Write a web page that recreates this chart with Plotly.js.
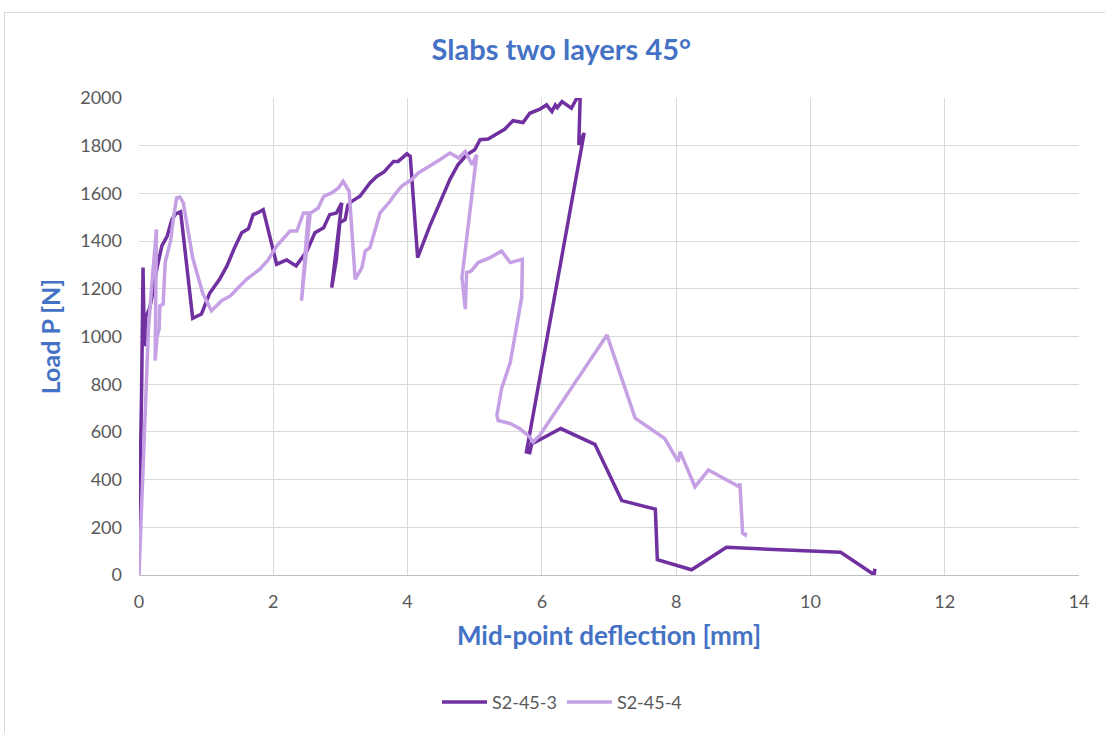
<!DOCTYPE html>
<html>
<head>
<meta charset="utf-8">
<script src="https://cdn.plot.ly/plotly-3.0.1.min.js"></script>
<style>
  html, body { margin: 0; padding: 0; background: #ffffff; }
  #chart { width: 1105px; height: 733px; position: absolute; left: 0; top: 0; }
  #frame { position: absolute; left: 4px; top: 12px; width: 1110px; height: 730px; border: 1px solid #d9d9d9; pointer-events: none; }
</style>
</head>
<body>
<div id="chart"></div>
<div id="frame"></div>
<script>
// S2-45-3 (dark purple)
const x_s3 = [0.00, 0.02, 0.04, 0.06, 0.08, 0.10, 0.10, 0.16, 0.19, 0.27, 0.34, 0.38, 0.42, 0.49, 0.55, 0.62, 0.80, 0.93, 1.05, 1.20, 1.31, 1.42, 1.53, 1.63, 1.70, 1.78, 1.85, 2.05, 2.20, 2.34, 2.50, 2.62, 2.75, 2.84, 2.94, 3.02, 2.87, 2.94, 2.99, 3.07, 3.11, 3.17, 3.29, 3.44, 3.54, 3.65, 3.79, 3.86, 3.99, 4.04, 4.15, 4.33, 4.50, 4.63, 4.75, 4.88, 5.00, 5.08, 5.20, 5.35, 5.45, 5.57, 5.72, 5.82, 5.97, 6.07, 6.15, 6.20, 6.23, 6.30, 6.44, 6.52, 6.57, 6.55, 6.63, 5.77, 5.82, 5.85, 5.92, 6.28, 6.79, 7.19, 7.69, 7.72, 8.23, 8.75, 10.45, 10.95, 10.96];
const y_s3 = [100, 400, 800, 1289, 960, 1000, 1080, 1120, 1160, 1290, 1380, 1400, 1421, 1491, 1515, 1523, 1076, 1094, 1180, 1240, 1296, 1370, 1435, 1452, 1511, 1520, 1532, 1303, 1321, 1296, 1358, 1435, 1456, 1511, 1518, 1560, 1205, 1324, 1477, 1490, 1550, 1567, 1588, 1644, 1671, 1690, 1734, 1734, 1766, 1755, 1331, 1463, 1570, 1658, 1720, 1762, 1783, 1825, 1828, 1855, 1870, 1905, 1897, 1936, 1953, 1971, 1943, 1971, 1960, 1985, 1957, 1999, 1994, 1804, 1853, 516, 513, 551, 560, 614, 548, 312, 276, 64, 22, 116, 95, 1, 26];

// S2-45-4 (light purple)
const x_s4 = [0.00, 0.05, 0.10, 0.14, 0.20, 0.26, 0.24, 0.27, 0.30, 0.31, 0.36, 0.39, 0.45, 0.47, 0.51, 0.56, 0.61, 0.66, 0.80, 0.95, 1.08, 1.23, 1.36, 1.50, 1.60, 1.80, 1.92, 2.05, 2.25, 2.35, 2.45, 2.55, 2.42, 2.52, 2.60, 2.67, 2.75, 2.87, 2.97, 3.04, 3.13, 3.22, 3.32, 3.37, 3.44, 3.59, 3.74, 3.79, 3.91, 4.06, 4.16, 4.33, 4.48, 4.63, 4.76, 4.86, 4.96, 5.03, 4.81, 4.86, 4.88, 4.95, 5.05, 5.23, 5.40, 5.53, 5.63, 5.71, 5.70, 5.53, 5.40, 5.33, 5.35, 5.53, 5.67, 5.82, 5.87, 5.97, 6.97, 7.39, 7.83, 8.03, 8.06, 8.28, 8.48, 8.94, 8.95, 8.99, 9.03, 9.04];
const y_s4 = [0, 350, 720, 1030, 1250, 1449, 899, 1000, 1031, 1129, 1136, 1310, 1379, 1400, 1491, 1581, 1585, 1560, 1330, 1180, 1108, 1150, 1170, 1210, 1240, 1282, 1320, 1379, 1442, 1442, 1518, 1518, 1150, 1511, 1525, 1539, 1588, 1602, 1623, 1651, 1609, 1240, 1289, 1358, 1372, 1518, 1567, 1588, 1630, 1658, 1686, 1713, 1741, 1769, 1748, 1776, 1720, 1762, 1247, 1115, 1268, 1275, 1310, 1331, 1358, 1310, 1317, 1324, 1164, 892, 781, 669, 648, 635, 614, 579, 558, 586, 1006, 658, 572, 475, 516, 370, 440, 370, 384, 175, 168, 178];

const titleText = "Slabs two layers 45°";
const xTitle = "Mid-point deflection [mm]";
const yTitle = "Load P [N]";
const seriesNames = ["S2-45-3", "S2-45-4"];

const traces = [
  { x: x_s3, y: y_s3, name: seriesNames[0], type: "scatter", mode: "lines",
    line: { color: "#7030A0", width: 3.5 } },
  { x: x_s4, y: y_s4, name: seriesNames[1], type: "scatter", mode: "lines",
    line: { color: "#C5A0E4", width: 3.5 } }
];

const font = "Lato, 'Open Sans', sans-serif";
const layout = {
  width: 1105, height: 733,
  paper_bgcolor: "#ffffff", plot_bgcolor: "#ffffff",
  margin: { l: 139, r: 26, t: 98, b: 156 },
  font: { family: font, color: "#595959", size: 18 },
  title: { text: "<b>" + titleText + "</b>", x: 0.508, xanchor: "center", y: 0.932, yanchor: "middle",
    font: { family: font, size: 29, color: "#4472C4" } },
  xaxis: {
    range: [0, 14], dtick: 2, tick0: 0,
    showgrid: true, gridcolor: "#D9D9D9", gridwidth: 1,
    zeroline: false, showline: true, linecolor: "#BFBFBF", linewidth: 1,
    ticks: "", ticklabelstandoff: 10, tickfont: { size: 18, color: "#595959" },
    title: { text: "<b>" + xTitle + "</b>", font: { family: font, size: 26, color: "#4472C4" }, standoff: 16 }
  },
  yaxis: {
    range: [0, 2000], dtick: 200, tick0: 0,
    showgrid: true, gridcolor: "#D9D9D9", gridwidth: 1,
    zeroline: false, showline: false,
    ticks: "", ticklabelstandoff: 16, tickfont: { size: 18, color: "#595959" },
    title: { text: "<b>" + yTitle + "</b>", font: { family: font, size: 25, color: "#4472C4" }, standoff: 12 }
  },
  showlegend: true,
  legend: { orientation: "h", x: 0.45, xanchor: "center", y: -0.267, yanchor: "middle",
    font: { size: 18, color: "#595959" }, itemwidth: 45, tracegroupgap: 0 }
};

Plotly.newPlot("chart", traces, layout, { displayModeBar: false, staticPlot: true });
</script>
</body>
</html>
